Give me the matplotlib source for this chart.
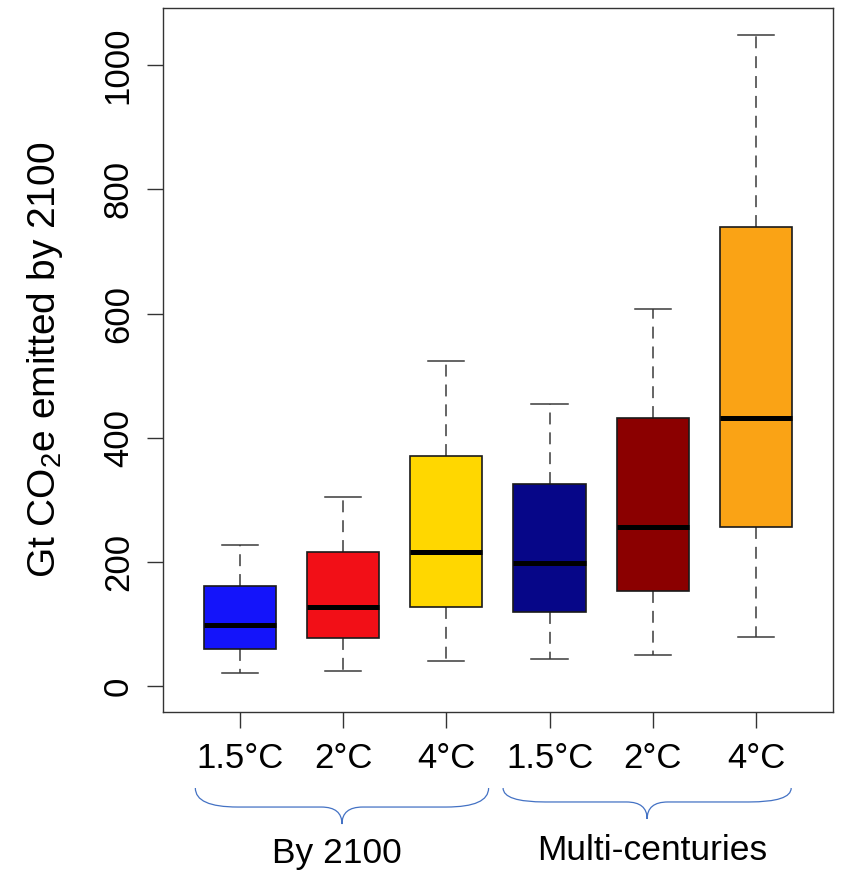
import numpy as np
import matplotlib
matplotlib.use("Agg")
import matplotlib.pyplot as plt
from matplotlib.path import Path
from matplotlib.patches import PathPatch
from matplotlib import transforms

plt.rcParams['font.family'] = ['Liberation Sans', 'DejaVu Sans']
plt.rcParams['mathtext.fontset'] = 'custom'
plt.rcParams['mathtext.rm'] = 'Liberation Sans'
plt.rcParams['mathtext.it'] = 'Liberation Sans:italic'
plt.rcParams['mathtext.default'] = 'regular'

# Box statistics (Gt CO2e)
tick_labels = ["1.5°C", "2°C", "4°C", "1.5°C", "2°C", "4°C"]
whisker_low = [21, 25, 40, 44, 51, 80]
q1 = [60, 77, 128, 120, 153, 257]
median = [99, 128, 216, 198, 256, 432]
q3 = [162, 216, 370, 326, 432, 740]
whisker_high = [228, 304, 524, 454, 608, 1048]
box_colors = ["#1414FA", "#F20F17", "#FFD700", "#060688", "#8B0000", "#FAA315"]

group_names = ["By 2100", "Multi-centuries"]
group_spans = [(0.57, 3.41), (3.55, 6.34)]
group_label_x = [1.94, 4.99]

fig = plt.figure(figsize=(8.41, 8.72), dpi=100)
ax = fig.add_axes([0.1942, 0.1831, 0.9899 - 0.1942, 0.9908 - 0.1831])

stats = []
for i in range(len(median)):
    stats.append({"med": median[i], "q1": q1[i], "q3": q3[i],
                  "whislo": whisker_low[i], "whishi": whisker_high[i],
                  "fliers": []})

bp = ax.bxp(stats, positions=np.arange(1, len(stats) + 1), widths=0.7,
            capwidths=0.35, patch_artist=True, showfliers=False,
            boxprops=dict(edgecolor="#1a1a1a", linewidth=1.2),
            medianprops=dict(color="black", linewidth=3.6, solid_capstyle="butt"),
            whiskerprops=dict(color="#3a3a3a", linewidth=1.1,
                              linestyle=(0, (7.8, 5.2))),
            capprops=dict(color="#3a3a3a", linewidth=1.1))
for patch, c in zip(bp["boxes"], box_colors):
    patch.set_facecolor(c)
for w in bp["whiskers"]:
    w.set_zorder(1)

ax.set_xlim(0.26, 6.74)
ax.set_ylim(-42, 1092)
ax.set_xticks(np.arange(1, 7))
ax.set_xticklabels(tick_labels)
ax.set_yticks([0, 200, 400, 600, 800, 1000])
ax.tick_params(axis="both", length=11.5, width=1.0, color="#333333",
               labelsize=25, direction="out")
ax.tick_params(axis="x", pad=9.5)
ax.tick_params(axis="y", pad=9, labelrotation=90)
for lab in ax.get_yticklabels():
    lab.set_va("center")
for s in ax.spines.values():
    s.set_color("#333333")
    s.set_linewidth(1.0)

ax.set_ylabel("Gt CO$_2$e emitted by 2100", fontsize=28)
ax.yaxis.set_label_coords(-0.147, 0.5)

# curly braces under the tick labels
trans = transforms.blended_transform_factory(ax.transData, fig.transFigure)
brace_y = [(0.0963, 0.0745, 0.055), (0.0963, 0.0803, 0.0608)]


def draw_brace(x0, x1, y_top, y_mid, y_tip, r_end=0.41, r_tip=0.2):
    xc = (x0 + x1) / 2
    verts = [(x0, y_top), (x0, y_mid), (x0 + r_end, y_mid),
             (xc - r_tip, y_mid), (xc, y_mid), (xc, y_tip),
             (xc, y_mid), (xc + r_tip, y_mid),
             (x1 - r_end, y_mid), (x1, y_mid), (x1, y_top)]
    codes = [Path.MOVETO, Path.CURVE3, Path.CURVE3, Path.LINETO,
             Path.CURVE3, Path.CURVE3, Path.CURVE3, Path.CURVE3,
             Path.LINETO, Path.CURVE3, Path.CURVE3]
    patch = PathPatch(Path(verts, codes), transform=trans, fill=False,
                      edgecolor="#4472C4", linewidth=0.9, clip_on=False)
    fig.add_artist(patch)


for (x0, x1), (yt, ym, yp) in zip(group_spans, brace_y):
    draw_brace(x0, x1, yt, ym, yp)

label_y = [0.0103, 0.0138]
for name, gx, gy in zip(group_names, group_label_x, label_y):
    fig.text(gx, gy, name, transform=trans, ha="center", va="baseline",
             fontsize=25.5)

fig.savefig("out.png", dpi=100)
